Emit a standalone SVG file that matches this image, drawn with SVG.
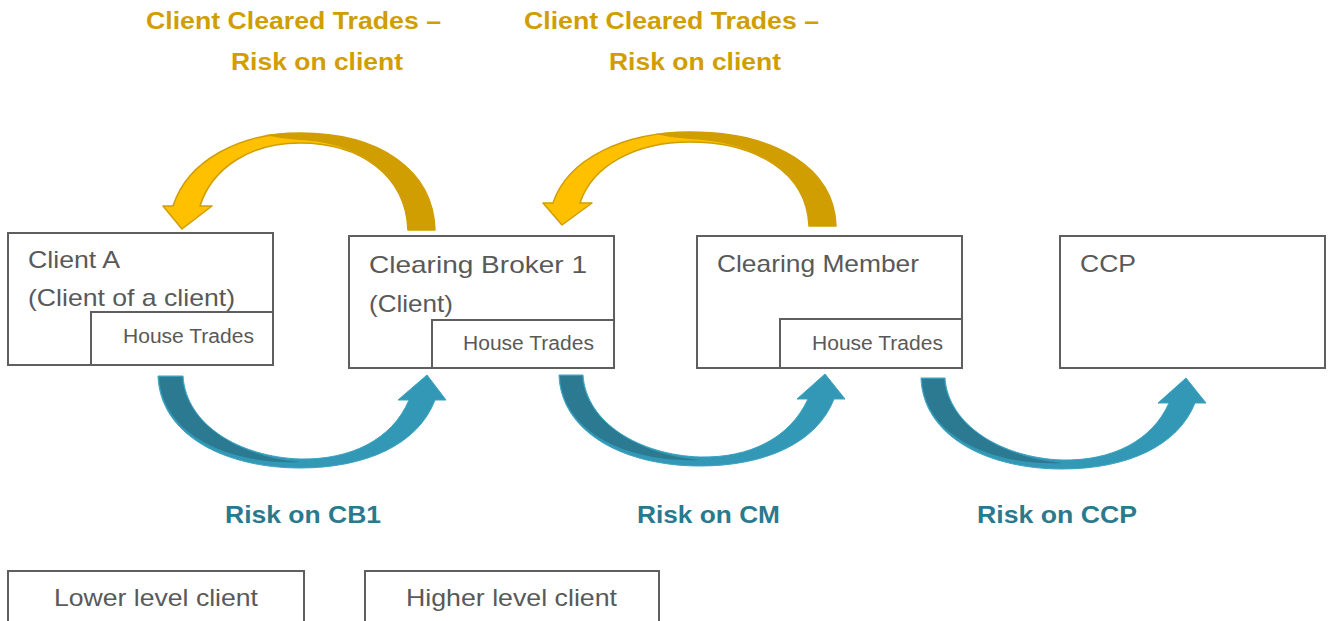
<svg xmlns="http://www.w3.org/2000/svg" width="1331" height="621" viewBox="0 0 1331 621">
<style>
.box{fill:#fff;stroke:#5f5f5f;stroke-width:2}
.lbl{font-family:"Liberation Sans",Arial,sans-serif;fill:#595959;font-size:24px}
.ht{font-family:"Liberation Sans",Arial,sans-serif;fill:#595959;font-size:20px}
.gold{font-family:"Liberation Sans",Arial,sans-serif;fill:#D09E00;font-size:24px;font-weight:bold}
.blue{font-family:"Liberation Sans",Arial,sans-serif;fill:#2A7A8E;font-size:24px;font-weight:bold}
.gl{fill:#FFC000;stroke:#D09E00;stroke-width:1.5;stroke-linejoin:round}
.gd{fill:#D09E00}
.bl{fill:#3298B6;stroke:#3AA3C0;stroke-width:1}
.bd{fill:#2B7A92}
</style>
<rect width="1331" height="621" fill="#fff"/>
<g id="connectors">
  <g id="gold1">
    <path class="gl" d="M435,230 L408,230 C406,175 360,143 300,143 C250,143 212,168 200,206 L212,206 L182,229 L163,206 L173,206 C188,160 240,133 300,133 C380,133 433,170 435,230 Z"/>
    <path class="gd" d="M265,135 C280,133 290,133 300,133 C380,133 433,170 435,230 L408,230 C406,175 360,143 300,140 C285,139 275,137 265,135 Z"/>
  </g>
  <g id="gold2">
    <path class="gl" d="M836,226 L809,226 C807,172 755,142 690,142 C635,142 592,166 580,203 L592,203 L562,225 L543,203 L553,203 C568,158 625,132 690,132 C775,132 834,168 836,226 Z"/>
    <path class="gd" d="M655,134 C668,132 680,132 690,132 C775,132 834,168 836,226 L809,226 C807,172 755,142 690,139 C675,138 665,136 655,134 Z"/>
  </g>
  <g id="blue1">
    <path class="bl" d="M158,376 L183,376 C186,425 240,457 300,459 C350,460 392,440 409,400 L398,400 L427,375 L446,400 L435,400 C418,445 365,468 300,468 C225,468 160,435 158,376 Z"/>
    <path class="bd" d="M159,377 L182,377 C186,425 240,457 300,462 C228,465 162,434 159,377 Z"/>
  </g>
  <g id="blue2">
    <path class="bl" d="M559,375 L583,375 C586,423 640,455 700,457 C750,458 790,438 808,399 L797,399 L825,374 L845,399 L834,399 C817,443 765,466 700,466 C625,466 561,433 559,375 Z"/>
    <path class="bd" d="M560,376 L582,376 C586,423 640,455 700,460 C628,463 562,432 560,376 Z"/>
  </g>
  <g id="blue3">
    <path class="bl" d="M921,378 L945,378 C948,425 1002,458 1062,460 C1112,461 1152,441 1169,403 L1158,403 L1186,378 L1206,403 L1195,403 C1178,446 1127,469 1062,469 C987,469 923,436 921,378 Z"/>
    <path class="bd" d="M922,379 L944,379 C948,425 1002,458 1062,463 C990,466 924,435 922,379 Z"/>
  </g>
</g>
<g id="title1">
  <text class="gold" x="146" y="29" textLength="295" lengthAdjust="spacingAndGlyphs">Client Cleared Trades –</text>
  <text class="gold" x="231" y="70" textLength="172" lengthAdjust="spacingAndGlyphs">Risk on client</text>
</g>
<g id="title2">
  <text class="gold" x="524" y="29" textLength="295" lengthAdjust="spacingAndGlyphs">Client Cleared Trades –</text>
  <text class="gold" x="609" y="70" textLength="172" lengthAdjust="spacingAndGlyphs">Risk on client</text>
</g>
<g id="clientA">
  <rect class="box" x="8" y="233" width="265" height="132"/>
  <text class="lbl" x="28" y="268" textLength="92" lengthAdjust="spacingAndGlyphs">Client A</text>
  <text class="lbl" x="28" y="306" textLength="207" lengthAdjust="spacingAndGlyphs">(Client of a client)</text>
  <rect class="box" x="91" y="312" width="182" height="53"/>
  <text class="ht" x="123" y="343" textLength="131" lengthAdjust="spacingAndGlyphs">House Trades</text>
</g>
<g id="cb1">
  <rect class="box" x="349" y="236" width="265" height="132"/>
  <text class="lbl" x="369" y="273" textLength="218" lengthAdjust="spacingAndGlyphs">Clearing Broker 1</text>
  <text class="lbl" x="369" y="312" textLength="84" lengthAdjust="spacingAndGlyphs">(Client)</text>
  <rect class="box" x="432" y="320" width="182" height="48"/>
  <text class="ht" x="463" y="350" textLength="131" lengthAdjust="spacingAndGlyphs">House Trades</text>
</g>
<g id="cm">
  <rect class="box" x="697" y="236" width="265" height="132"/>
  <text class="lbl" x="717" y="272" textLength="202" lengthAdjust="spacingAndGlyphs">Clearing Member</text>
  <rect class="box" x="780" y="319" width="182" height="49"/>
  <text class="ht" x="812" y="350" textLength="131" lengthAdjust="spacingAndGlyphs">House Trades</text>
</g>
<g id="ccp">
  <rect class="box" x="1060" y="236" width="265" height="132"/>
  <text class="lbl" x="1080" y="272" textLength="56" lengthAdjust="spacingAndGlyphs">CCP</text>
</g>
<g id="risk-labels">
  <text class="blue" x="225" y="523" textLength="156" lengthAdjust="spacingAndGlyphs">Risk on CB1</text>
  <text class="blue" x="637" y="523" textLength="143" lengthAdjust="spacingAndGlyphs">Risk on CM</text>
  <text class="blue" x="977" y="523" textLength="160" lengthAdjust="spacingAndGlyphs">Risk on CCP</text>
</g>
<g id="legend-lower">
  <rect class="box" x="8" y="571" width="296" height="60"/>
  <text class="lbl" x="54" y="606" textLength="204" lengthAdjust="spacingAndGlyphs">Lower level client</text>
</g>
<g id="legend-higher">
  <rect class="box" x="365" y="571" width="294" height="60"/>
  <text class="lbl" x="406" y="606" textLength="211" lengthAdjust="spacingAndGlyphs">Higher level client</text>
</g>
</svg>
